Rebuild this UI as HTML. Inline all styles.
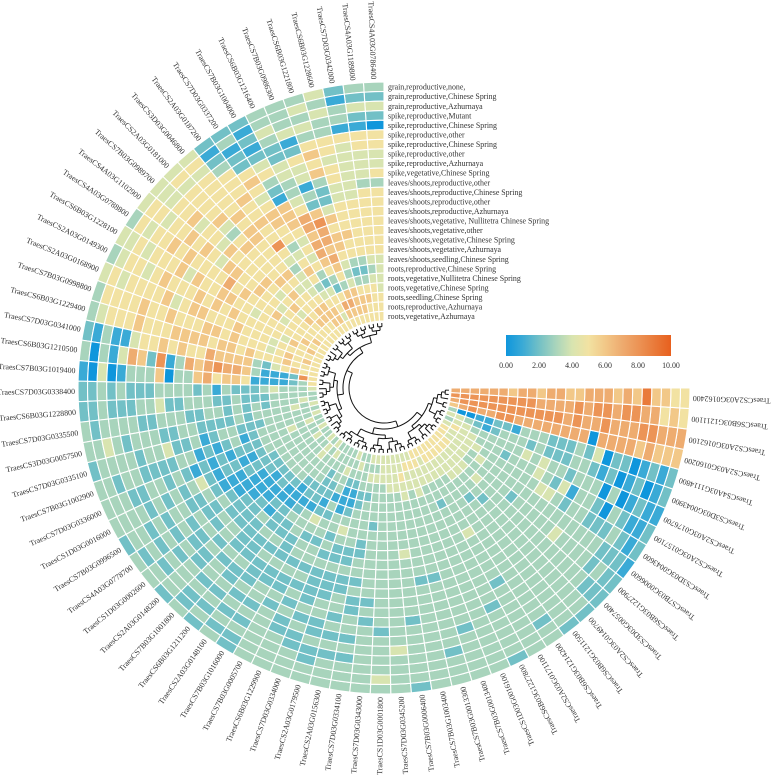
<!DOCTYPE html>
<html><head><meta charset="utf-8">
<style>
html,body{margin:0;padding:0;background:#fff;}
svg{display:block;}
text{font-family:"Liberation Serif",serif;fill:#333;}
</style></head>
<body>
<svg id="chart" width="777" height="777" viewBox="0 0 777 777" xmlns="http://www.w3.org/2000/svg">
<g id="dendro"></g>
<g id="cells"></g>
<g id="genelabels"></g>
<g id="rowlabels"></g>
<g id="legend"></g>
</svg>
<script>
const conditions = ["grain,reproductive,none,","grain,reproductive,Chinese Spring","grain,reproductive,Azhurnaya","spike,reproductive,Mutant","spike,reproductive,Chinese Spring","spike,reproductive,other","spike,reproductive,Chinese Spring","spike,reproductive,other","spike,reproductive,Azhurnaya","spike,vegetative,Chinese Spring","leaves/shoots,reproductive,other","leaves/shoots,reproductive,Chinese Spring","leaves/shoots,reproductive,other","leaves/shoots,reproductive,Azhurnaya","leaves/shoots,vegetative, Nullitetra Chinese Spring","leaves/shoots,vegetative,other","leaves/shoots,vegetative,Chinese Spring","leaves/shoots,vegetative,Azhurnaya","leaves/shoots,seedling,Chinese Spring","roots,reproductive,Chinese Spring","roots,vegetative,Nullitetra Chinese Spring","roots,vegetative,Chinese Spring","roots,seedling,Chinese Spring","roots,reproductive,Azhurnaya","roots,vegetative,Azhurnaya","roots,seedling,Azhurnaya"];
const genes = ["TraesCS4A03G0786400","TraesCS4A03G1189800","TraesCS7D03G0342000","TraesCS6B03G1228600","TraesCS6B03G1221800","TraesCS7B03G0986300","TraesCS6B03G1216400","TraesCS7B03G1004000","TraesCS7D03G0337200","TraesCS2A03G0187200","TraesCS3D03G0046800","TraesCS2A03G0181000","TraesCS7B03G0989700","TraesCS4A03G1102900","TraesCS4A03G0788800","TraesCS6B03G1228100","TraesCS2A03G0149300","TraesCS2A03G0168900","TraesCS7B03G0998800","TraesCS6B03G1229400","TraesCS7D03G0341000","TraesCS6B03G1210500","TraesCS7B03G1019400","TraesCS7D03G0338400","TraesCS6B03G1228800","TraesCS7D03G0335500","TraesCS3D03G0057500","TraesCS7D03G0335100","TraesCS7B03G1002900","TraesCS7D03G0336000","TraesCS1D03G0016000","TraesCS7B03G0996500","TraesCS4A03G0778700","TraesCS1D03G0002600","TraesCS2A03G0148200","TraesCS7B03G1001800","TraesCS6B03G1211200","TraesCS2A03G0148100","TraesCS7B03G1016000","TraesCS7B03G0005700","TraesCS6B03G1229900","TraesCS7D03G0334000","TraesCS2A03G0179500","TraesCS2A03G0156300","TraesCS7D03G0334100","TraesCS7D03G0343000","TraesCS1D03G0001800","TraesCS7D03G0345200","TraesCS7B03G0006400","TraesCS7B03G1003400","TraesCS7B03G0013300","TraesCS7B03G0013400","TraesCS1D03G0016100","TraesCS6B03G1227800","TraesCS2A03G0171100","TraesCS6B03G1214200","TraesCS6B03G1211500","TraesCS2A03G0149700","TraesCS3D03G0057400","TraesCS6B03G1227900","TraesCS7B03G0006600","TraesCS3D03G0043600","TraesCS2A03G0157100","TraesCS2A03G0176700","TraesCS3D03G0043900","TraesCS4A03G1114800","TraesCS2A03G0160200","TraesCS2A03G0162100","TraesCS6B03G1211100","TraesCS2A03G0162400"];
// expression per gene, outer row -> inner row, one char per condition (0-9, a=10)
const expr = ["3242055445355555554444555","3242155444355555554345555","2133154444445555553235655","4343355455445556553235665","3434356563224656654346665","3334125441326877676536765","3343224433457767765325765","2121245321666545453245545","2312256545665534565345665","2123555655655854344456665","4545555565665555654556655","4545555643565555656555655","4445564554655556545646555","4554556565466556554555555","3545565655557565556455565","4454555646556655455555655","3455456555656565555546565","4545555645665556555455555","3555565565556656555456565","3455565556666566565556555","2131145565655766663245655","3031476281376787763111285","1040133360336756651111235","2232322233332313222343334","2232223342233322322233333","3233332233322332323233343","3343233322332222323333434","2333323342231233222333333","3323322223312123123333334","3332233232121212223334343","3333232323421221123333333","2332323322321112222333334","3232323232232111122333343","3323232232322211112333333","2333322323322221122333334","3223233232222312112333443","2323232232223222111233334","3232323222323223212233343","2232323322322233312222333","3333332322323323421223333","3333223232323323323133433","3332232322223232331112334","3322322332223223432112343","3332323233223223333223333","3332323322323322333323434","3333333232333333323333434","3433332333333333333333444","3333433333333333333334444","2333333233333343333334444","3333333333323333333344544","3332333333323333333334454","3333323333333333333344454","3333333333333333333334455","2333332333333333332334445","3333333323333343333334455","3323333333333333333334455","2333333333333333323344455","2333333333333333233344455","2223333333333333334344455","2232333343333323333334455","1222333333333333333434445","2123222332344333333344445","2112302331423433323334454","1121030333233434333333443","2102102123322232333212344","2121022042322233312211003","6667677770777777778877876","7778877787787888888888887","5657788788787777888888888","5566967677766776776777777"];
const legendTicks = ["0.00","2.00","4.00","6.00","8.00","10.00"];
const legendValues = [0,2,4,6,8,10];

const NS="http://www.w3.org/2000/svg";
const cx=384, cy=388, rIn=67, rOut=306, startDeg=90, spanDeg=270;
const nG=genes.length, nR=25, rowH=(rOut-rIn)/nR;
const stops=[[0,[15,150,220]],[1,[58,170,214]],[2,[114,192,198]],[3,[168,212,188]],[4,[216,228,176]],[5,[242,226,162]],[6,[242,200,136]],[7,[238,172,112]],[8,[236,148,86]],[9,[233,122,58]],[10,[232,96,30]]];
function color(v){v=Math.max(0,Math.min(10,v));const i=Math.min(9,Math.floor(v));const t=v-i;const a=stops[i][1],b=stops[i+1][1];return "rgb("+a.map((c,k)=>Math.round(c+(b[k]-c)*t)).join(",")+")";}
function angleOf(i){return startDeg+spanDeg*i/nG;}
function pt(r,deg){const a=deg*Math.PI/180;return [cx+r*Math.cos(a),cy-r*Math.sin(a)];}
function val(ch){return ch==='a'?10:parseInt(ch,10);}

const cells=document.getElementById('cells');
for(let g=0;g<nG;g++){
  const a0=angleOf(g),a1=angleOf(g+1);
  for(let r=0;r<nR;r++){
    const ro=rOut-r*rowH, ri=rOut-(r+1)*rowH;
    const v=val(expr[g][r]);
    let d="";const steps=4;
    for(let s=0;s<=steps;s++){const p=pt(ro,a0+(a1-a0)*s/steps);d+=(s?"L":"M")+p[0].toFixed(2)+","+p[1].toFixed(2);}
    for(let s=steps;s>=0;s--){const p=pt(ri,a0+(a1-a0)*s/steps);d+="L"+p[0].toFixed(2)+","+p[1].toFixed(2);}
    const el=document.createElementNS(NS,'path');
    el.setAttribute('d',d+"Z");el.setAttribute('fill',color(v));
    el.setAttribute('stroke','#fff');el.setAttribute('stroke-width','1.1');
    
    
    cells.appendChild(el);
  }
}
const gl=document.getElementById('genelabels');
for(let g=0;g<nG;g++){
  const am=(angleOf(g)+angleOf(g+1))/2;
  const p=pt(rOut+3,am);
  const t=document.createElementNS(NS,'text');
  t.setAttribute('transform',`translate(${p[0].toFixed(2)},${p[1].toFixed(2)}) rotate(${(-am+180).toFixed(2)})`);
  t.setAttribute('text-anchor','end');t.setAttribute('dominant-baseline','central');
  t.setAttribute('font-size','7.9');t.textContent=genes[g];
  
  
  gl.appendChild(t);
}
const rl=document.getElementById('rowlabels');
for(let r=0;r<nR;r++){
  const t=document.createElementNS(NS,'text');
  t.setAttribute('x',cx+4);t.setAttribute('y',(cy-rOut+(r+0.5)*rowH+2.9).toFixed(2));
  t.setAttribute('font-size','7.9');t.textContent=conditions[r];
  
  
  rl.appendChild(t);
}
const dg=document.getElementById('dendro');
function line(d){const p=document.createElementNS(NS,'path');p.setAttribute('d',d);p.setAttribute('fill','none');p.setAttribute('stroke','#111');p.setAttribute('stroke-width','1');


dg.appendChild(p);}
function build(lo,hi,depth){
  if(hi-lo===1){return {ang:(angleOf(lo)+angleOf(lo+1))/2,r:rIn-2};}
  const mid=Math.floor((lo+hi)/2);
  const A=build(lo,mid,depth+1),B=build(mid,hi,depth+1);
  const r=Math.max(28,Math.min(A.r,B.r)-(hi-lo>20?6:3.6));
  [A,B].forEach(c=>{const p1=pt(c.r,c.ang),p2=pt(r,c.ang);line(`M${p1[0]},${p1[1]}L${p2[0]},${p2[1]}`);});
  const s=pt(r,A.ang),e=pt(r,B.ang);
  const large=(B.ang-A.ang)>180?1:0;
  line(`M${s[0]},${s[1]}A${r},${r} 0 ${large} 0 ${e[0]},${e[1]}`);
  return {ang:(A.ang+B.ang)/2,r:r};
}
build(0,nG,0);
const lg=document.getElementById('legend');
const lx0=506,lx1=671,ly=335,lh=21;
const defs=document.createElementNS(NS,'defs');
const grad=document.createElementNS(NS,'linearGradient');grad.setAttribute('id','lgGrad');
stops.forEach(s=>{const st=document.createElementNS(NS,'stop');st.setAttribute('offset',(s[0]*10)+'%');st.setAttribute('stop-color',color(s[0]));grad.appendChild(st);});
defs.appendChild(grad);lg.appendChild(defs);
const bar=document.createElementNS(NS,'rect');
bar.setAttribute('x',lx0);bar.setAttribute('y',ly);bar.setAttribute('width',lx1-lx0);bar.setAttribute('height',lh);bar.setAttribute('fill','url(#lgGrad)');


lg.appendChild(bar);
legendValues.forEach((v,i)=>{
  const t=document.createElementNS(NS,'text');
  t.setAttribute('x',lx0+(lx1-lx0)*v/10);t.setAttribute('y',ly+lh+12);
  t.setAttribute('text-anchor','middle');t.setAttribute('font-size','7.9');t.textContent=legendTicks[i];
  
  
  lg.appendChild(t);
});
</script>
</body></html>
